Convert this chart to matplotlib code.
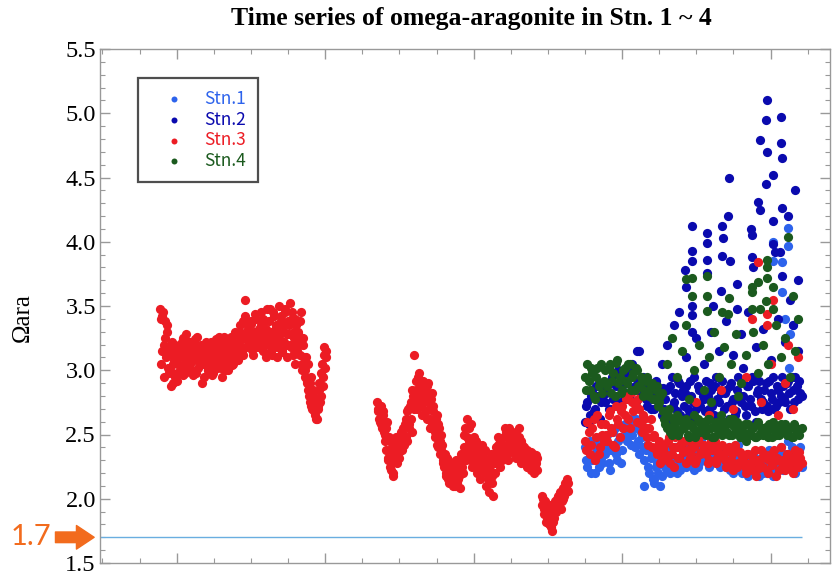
import numpy as np
import matplotlib.pyplot as plt
from matplotlib.ticker import MultipleLocator

# ---- data (x = day of record, y = omega-aragonite) ----
# two readings a day were logged; "_a"/"_a2" etc. hold the first / second reading

# Stn.3, first deployment
stn3_a_start = 23.2
stn3_a = [3.48, 3.05, 3.42, 3.20, 3.38, 3.10, 3.30, 2.98,
          3.15, 2.88, 3.22, 3.05, 2.95, 3.18, 2.92, 3.10,
          3.20, 3.02, 3.12, 3.25, 2.98, 3.15, 3.08, 3.22,
          3.05, 3.18, 3.12, 2.96, 3.20, 3.10, 3.26, 3.02,
          3.14, 3.08, 2.90, 3.18, 3.05, 3.22, 3.12, 3.00,
          3.15, 3.05, 3.20, 2.98, 3.10, 3.24, 3.02, 3.16,
          3.08, 3.18, 2.95, 3.12, 3.22, 3.05, 3.15, 3.00,
          3.18, 3.10, 3.25, 3.05, 3.20, 3.12, 3.28, 3.08,
          3.22, 3.30, 3.15, 3.38, 3.25, 3.55, 3.18, 3.32,
          3.28, 3.20, 3.36, 3.12, 3.30, 3.24, 3.40, 3.18,
          3.32, 3.22, 3.45, 3.15, 3.28, 3.38, 3.10, 3.25,
          3.20, 3.48, 3.30, 3.12, 3.42, 3.25, 3.35, 3.18,
          3.50, 3.22, 3.38, 3.15, 3.30, 3.45, 3.20, 3.10,
          3.28, 3.52, 3.18, 3.40, 3.25, 3.05, 3.35, 3.22,
          3.30, 3.12, 3.45, 3.00, 3.20, 2.95, 3.10, 2.90,
          2.85, 2.75, 2.95, 2.70, 2.82, 2.65, 2.78, 2.62,
          2.72, 2.90, 2.80, 3.05, 2.95, 3.18, 3.10]
stn3_a2 = [3.40, 3.15, 3.45, 2.95, 3.25, 3.35, 3.02, 3.18,
           3.00, 3.12, 2.90, 3.08, 3.20, 2.98, 3.14, 3.04,
           3.10, 3.22, 2.96, 3.18, 3.06, 3.28, 3.00, 3.14,
           3.22, 3.00, 3.15, 3.08, 3.24, 2.98, 3.12, 3.18,
           3.04, 3.20, 3.10, 2.95, 3.15, 3.06, 3.00, 3.20,
           3.08, 3.22, 2.96, 3.14, 3.04, 3.18, 3.10, 3.26,
           3.20, 3.02, 3.12, 3.26, 3.00, 3.16, 3.08, 3.22,
           3.12, 3.26, 3.04, 3.16, 3.30, 3.08, 3.20, 3.15,
           3.35, 3.18, 3.28, 3.12, 3.42, 3.24, 3.36, 3.20,
           3.22, 3.38, 3.16, 3.28, 3.44, 3.20, 3.30, 3.26,
           3.18, 3.35, 3.25, 3.40, 3.20, 3.32, 3.48, 3.22,
           3.38, 3.15, 3.26, 3.45, 3.20, 3.34, 3.10, 3.30,
           3.25, 3.42, 3.14, 3.35, 3.22, 3.48, 3.28, 3.38,
           3.35, 3.20, 3.45, 3.12, 3.30, 3.40, 3.15, 3.28,
           3.20, 3.38, 3.05, 3.25, 3.10, 3.00, 2.92, 3.05,
           2.80, 2.90, 2.72, 2.85, 2.68, 2.76, 2.62, 2.70,
           2.85, 2.75, 2.98, 2.88, 3.12, 3.02, 3.15]

# Stn.3, second deployment
stn3_b_start = 111.0
stn3_b = [2.75, 2.68, 2.60, 2.72, 2.55, 2.65,
          2.50, 2.38, 2.60, 2.30, 2.45, 2.22, 2.40, 2.18,
          2.35, 2.48, 2.28, 2.42, 2.32, 2.52, 2.38, 2.45,
          2.50, 2.62, 2.45, 2.70, 2.58, 2.75, 2.52, 2.80,
          3.12, 2.85, 2.70, 2.95, 2.78, 2.88, 2.65, 2.92,
          2.75, 2.85, 2.62, 2.90, 2.70, 2.55, 2.82, 2.68,
          2.60, 2.48, 2.65, 2.40, 2.55, 2.35, 2.50, 2.30,
          2.25, 2.35, 2.18, 2.30, 2.12, 2.28, 2.20, 2.15,
          2.22, 2.10, 2.30, 2.15, 2.25, 2.08, 2.35, 2.20,
          2.40, 2.55, 2.30, 2.62, 2.45, 2.35, 2.58, 2.25,
          2.48, 2.30, 2.40, 2.20, 2.35, 2.15, 2.28, 2.42,
          2.25, 2.38, 2.10, 2.30, 2.05, 2.22, 2.35, 2.18,
          2.02, 2.28, 2.40, 2.32, 2.48, 2.25, 2.38, 2.30,
          2.42, 2.55, 2.35, 2.50, 2.30, 2.45, 2.38, 2.52,
          2.40, 2.50, 2.32, 2.45, 2.38, 2.55, 2.28, 2.42,
          2.35, 2.40, 2.28, 2.38, 2.25, 2.32, 2.22, 2.30, 2.35, 2.20, 2.28, 2.32]
stn3_b2 = [2.70, 2.62, 2.72, 2.58, 2.68, 2.52,
           2.45, 2.55, 2.32, 2.48, 2.25, 2.38, 2.20, 2.30,
           2.42, 2.30, 2.45, 2.36, 2.48, 2.40, 2.55, 2.42,
           2.58, 2.48, 2.68, 2.55, 2.72, 2.62, 2.85, 2.70,
           2.80, 2.92, 2.75, 2.98, 2.82, 2.72, 2.90, 2.80,
           2.80, 2.68, 2.88, 2.75, 2.62, 2.78, 2.58, 2.72,
           2.52, 2.62, 2.42, 2.58, 2.45, 2.38, 2.42, 2.28,
           2.30, 2.20, 2.32, 2.15, 2.25, 2.18, 2.28, 2.10,
           2.18, 2.28, 2.12, 2.22, 2.18, 2.28, 2.25, 2.32,
           2.50, 2.35, 2.48, 2.40, 2.55, 2.30, 2.42, 2.35,
           2.35, 2.45, 2.25, 2.38, 2.28, 2.22, 2.35, 2.30,
           2.32, 2.20, 2.28, 2.15, 2.25, 2.30, 2.12, 2.28,
           2.35, 2.20, 2.30, 2.42, 2.35, 2.45, 2.32, 2.40,
           2.48, 2.38, 2.52, 2.42, 2.55, 2.36, 2.48, 2.44,
           2.46, 2.35, 2.52, 2.40, 2.48, 2.35, 2.45, 2.38,
           2.30, 2.38, 2.32, 2.25, 2.35, 2.28, 2.36, 2.24, 2.30, 2.26, 2.34, 2.22]

# Stn.3, third deployment
stn3_c_start = 177.5
stn3_c = [1.95, 2.00, 1.88, 1.98, 1.85, 1.92, 1.80, 1.95, 1.75, 1.90, 1.85,
          1.98, 1.92, 2.02, 1.95, 2.05, 1.98, 2.08, 2.02, 2.10, 2.05, 2.12]
stn3_c2 = [2.02, 1.92, 1.96, 1.82, 1.90, 1.86, 1.94, 1.78, 1.88, 1.82, 1.95,
           1.90, 2.00, 1.96, 2.04, 1.92, 2.06, 2.00, 2.12, 2.08, 2.15, 2.06]

# all four stations, last period
multi_start = 195
stn1_band = [2.40, 2.25, 2.45, 2.30, 2.20, 2.38, 2.48, 2.28,
             2.35, 2.50, 2.22, 2.42, 2.55, 2.30, 2.48, 2.38,
             2.58, 2.45, 2.62, 2.50, 2.40, 2.55, 2.35, 2.48,
             2.30, 2.42, 2.20, 2.35, 2.12, 2.28, 2.40, 2.18,
             2.30, 2.22, 2.38, 2.25, 2.32, 2.20, 2.40, 2.28,
             2.35, 2.25, 2.42, 2.30, 2.22, 2.38, 2.28, 2.45,
             2.32, 2.40, 2.25, 2.35, 2.45, 2.28, 2.38, 2.30,
             2.35, 2.25, 2.40, 2.30, 2.20, 2.32, 2.42, 2.26,
             2.22, 2.30, 2.18, 2.28, 2.35, 2.20, 2.25, 2.32,
             2.20, 2.28, 2.22, 2.35, 2.18, 2.30, 2.25, 2.40,
             2.22, 2.30, 2.45, 2.25, 2.35, 2.20, 2.28, 2.40]
stn1_band2 = [2.30, 2.42, 2.20, 2.35, 2.45, 2.25, 2.32, 2.40,
              2.45, 2.28, 2.38, 2.52, 2.35, 2.45, 2.28, 2.55,
              2.50, 2.60, 2.42, 2.55, 2.62, 2.45, 2.52, 2.40,
              2.38, 2.25, 2.32, 2.15, 2.25, 2.20, 2.10, 2.32,
              2.25, 2.35, 2.20, 2.30, 2.40, 2.28, 2.22, 2.35,
              2.30, 2.40, 2.28, 2.36, 2.45, 2.25, 2.40, 2.32,
              2.38, 2.28, 2.42, 2.30, 2.35, 2.40, 2.25, 2.36,
              2.28, 2.38, 2.22, 2.35, 2.30, 2.25, 2.35, 2.20,
              2.30, 2.20, 2.28, 2.35, 2.22, 2.30, 2.18, 2.26,
              2.30, 2.20, 2.38, 2.25, 2.32, 2.22, 2.36, 2.28,
              2.35, 2.25, 2.32, 2.40, 2.22, 2.30, 2.38, 2.25]
stn2_band = [2.60, 2.75, 2.65, 2.85, 2.70, 2.80, 2.62, 2.78,
             2.75, 2.88, 2.70, 2.95, 2.80, 2.72, 2.90, 2.85,
             2.82, 2.95, 2.78, 3.05, 2.88, 3.15, 2.92, 2.80,
             2.85, 2.72, 2.90, 2.78, 2.70, 2.88, 2.75, 2.65,
             2.70, 2.85, 2.62, 2.95, 2.75, 2.68, 2.90, 2.80,
             2.72, 2.88, 2.65, 2.80, 2.95, 2.70, 2.85, 2.60,
             2.78, 2.92, 2.70, 2.85, 2.65, 2.95, 2.75, 2.82,
             2.70, 2.85, 2.62, 2.90, 2.78, 2.68, 2.95, 2.75,
             2.80, 2.65, 2.88, 2.72, 2.92, 2.60, 2.85, 2.78,
             2.75, 2.90, 2.68, 2.82, 2.95, 2.72, 2.85, 2.80,
             2.88, 2.75, 2.92, 2.70, 2.85, 2.95, 2.78, 2.82]
stn2_band2 = [2.72, 2.58, 2.80, 2.68, 2.88, 2.62, 2.75, 2.85,
              2.82, 2.70, 2.92, 2.78, 2.88, 3.00, 2.75, 2.92,
              2.90, 2.78, 2.98, 2.85, 2.75, 2.92, 2.82, 2.95,
              2.78, 2.88, 2.70, 2.82, 2.92, 2.72, 2.80, 2.86,
              2.78, 2.62, 2.88, 2.72, 2.82, 2.92, 2.65, 2.85,
              2.82, 2.70, 2.92, 2.75, 2.62, 2.88, 2.72, 2.80,
              2.68, 2.80, 2.90, 2.72, 2.88, 2.78, 2.62, 2.92,
              2.82, 2.72, 2.88, 2.75, 2.65, 2.85, 2.80, 2.92,
              2.72, 2.88, 2.78, 2.95, 2.68, 2.82, 2.92, 2.70,
              2.85, 2.72, 2.92, 2.78, 2.70, 2.88, 2.75, 2.95,
              2.78, 2.90, 2.82, 2.95, 2.75, 2.88, 2.92, 2.80]
stn3_band = [2.45, 2.60, 2.35, 2.55, 2.30, 2.65, 2.40, 2.50,
             2.58, 2.45, 2.68, 2.52, 2.40, 2.62, 2.48, 2.72,
             2.65, 2.80, 2.55, 2.75, 2.85, 2.60, 2.70, 2.52,
             2.62, 2.48, 2.55, 2.40, 2.50, 2.35, 2.45, 2.30,
             2.42, 2.30, 2.48, 2.35, 2.25, 2.40, 2.32, 2.45,
             2.38, 2.28, 2.45, 2.35, 2.40, 2.30, 2.48, 2.36,
             2.42, 2.35, 2.30, 2.45, 2.38, 2.28, 2.40, 2.33,
             2.35, 2.25, 2.40, 2.30, 2.22, 2.38, 2.28, 2.35,
             2.30, 2.20, 2.35, 2.25, 2.32, 2.18, 2.28, 2.38,
             2.25, 2.32, 2.20, 2.35, 2.28, 2.18, 2.30, 2.40,
             2.30, 2.22, 2.35, 2.28, 2.20, 2.38, 2.25, 2.32]
stn3_band2 = [2.38, 2.52, 2.42, 2.62, 2.48, 2.35, 2.58, 2.45,
              2.50, 2.65, 2.55, 2.42, 2.72, 2.58, 2.68, 2.55,
              2.78, 2.62, 2.82, 2.68, 2.72, 2.78, 2.58, 2.65,
              2.55, 2.42, 2.62, 2.48, 2.38, 2.42, 2.28, 2.38,
              2.35, 2.45, 2.28, 2.40, 2.48, 2.32, 2.42, 2.36,
              2.45, 2.38, 2.32, 2.42, 2.28, 2.45, 2.35, 2.42,
              2.36, 2.28, 2.42, 2.38, 2.45, 2.32, 2.35, 2.42,
              2.30, 2.38, 2.28, 2.35, 2.42, 2.25, 2.36, 2.30,
              2.25, 2.35, 2.28, 2.22, 2.38, 2.30, 2.24, 2.32,
              2.35, 2.22, 2.30, 2.26, 2.38, 2.32, 2.22, 2.28,
              2.26, 2.35, 2.28, 2.22, 2.32, 2.26, 2.36, 2.28]
stn4_band = [2.95, 3.05, 2.85, 2.98, 2.78, 3.02, 2.90, 2.82,
             3.00, 2.88, 3.05, 2.92, 2.80, 3.08, 2.95, 2.85,
             3.02, 2.90, 3.05, 2.95, 2.85, 3.00, 2.88, 2.92,
             2.85, 2.95, 2.80, 2.90, 2.78, 2.88, 2.75, 2.82,
             2.62, 2.55, 2.70, 2.50, 2.58, 2.65, 2.52, 2.60,
             2.55, 2.62, 2.48, 2.58, 2.65, 2.52, 2.60, 2.55,
             2.58, 2.50, 2.62, 2.55, 2.48, 2.60, 2.52, 2.65,
             2.55, 2.60, 2.50, 2.58, 2.62, 2.52, 2.56, 2.48,
             2.52, 2.45, 2.58, 2.50, 2.55, 2.48, 2.60, 2.52,
             2.50, 2.56, 2.48, 2.55, 2.60, 2.50, 2.53, 2.58,
             2.52, 2.58, 2.50, 2.55, 2.48, 2.56, 2.52, 2.54]
stn4_band2 = [2.85, 2.92, 3.02, 2.80, 2.95, 2.88, 3.05, 2.92,
              2.90, 3.02, 2.82, 2.98, 3.06, 2.90, 2.82, 3.00,
              2.92, 3.05, 2.85, 2.98, 3.02, 2.88, 2.95, 2.80,
              2.92, 2.82, 2.88, 2.78, 2.85, 2.72, 2.80, 2.68,
              2.58, 2.65, 2.52, 2.62, 2.55, 2.50, 2.62, 2.56,
              2.60, 2.50, 2.58, 2.55, 2.48, 2.62, 2.52, 2.60,
              2.52, 2.62, 2.55, 2.48, 2.58, 2.54, 2.60, 2.50,
              2.58, 2.52, 2.62, 2.50, 2.55, 2.60, 2.48, 2.56,
              2.58, 2.50, 2.52, 2.56, 2.48, 2.58, 2.50, 2.55,
              2.55, 2.50, 2.58, 2.48, 2.54, 2.56, 2.50, 2.52,
              2.56, 2.50, 2.54, 2.48, 2.58, 2.52, 2.50, 2.55]

# scattered high readings in the last period
stn1_hi_day = [270.9, 277.0, 277.0, 274.6, 270.9, 274.6, 276.0, 278.0, 279.0, 277.5, 219.0, 223.0]
stn1_hi_val = [4.00, 4.11, 3.97, 3.84, 3.85, 3.61, 3.40, 3.28, 3.35, 3.02, 2.10, 2.15]
stn2_hi_day = [268.5, 268.1, 274.2, 265.7, 268.5, 274.2, 274.6, 253.1, 270.9, 268.1,
               264.9, 265.7, 274.6, 277.0, 252.7, 270.9, 238.2, 244.3, 250.3, 262.0,
               262.4, 244.3, 250.7, 270.9, 238.2, 238.2, 244.3, 250.3, 253.5, 262.4,
               271.7, 273.7, 235.4, 235.8, 244.3, 249.9, 256.4, 262.8, 274.6, 246.7,
               256.4, 238.2, 238.2, 238.2, 228.0, 231.0, 236.0, 240.0, 243.0, 246.0,
               249.0, 252.0, 255.0, 258.0, 261.0, 264.0, 267.0, 270.0, 273.0, 276.0,
               279.0, 281.0, 226.0, 233.0, 259.0, 278.0, 280.0, 281.0, 217.0]
stn2_hi_val = [5.10, 4.95, 4.97, 4.79, 4.70, 4.77, 4.65, 4.50, 4.52, 4.45,
               4.31, 4.25, 4.26, 4.20, 4.20, 4.16, 4.12, 4.07, 4.12, 4.10,
               4.05, 3.99, 4.03, 3.98, 3.93, 3.85, 3.86, 3.89, 3.85, 3.88,
               3.92, 3.92, 3.78, 3.65, 3.76, 3.62, 3.67, 3.80, 3.73, 3.50,
               3.48, 3.50, 3.43, 3.30, 3.20, 3.35, 3.10, 3.25, 3.05, 3.30,
               3.15, 3.38, 3.12, 3.28, 3.45, 3.18, 3.32, 3.08, 3.40, 3.22,
               3.35, 3.15, 3.05, 3.45, 3.02, 3.55, 4.40, 3.70, 3.15]
stn3_hi_day = [264.9, 262.4, 268.5, 268.5, 250.0, 255.0, 260.0, 266.0, 270.0, 273.0,
               276.0, 279.0, 281.0, 245.0, 240.0, 271.0, 277.0]
stn3_hi_val = [3.84, 3.40, 3.44, 3.35, 2.85, 2.70, 2.95, 2.75, 3.05, 2.65,
               2.90, 2.70, 3.10, 2.65, 2.75, 3.55, 3.20]
stn4_hi_day = [277.0, 268.5, 268.5, 268.5, 264.9, 262.4, 262.4, 235.8, 238.2, 244.3,
               238.2, 244.3, 253.1, 244.3, 250.3, 262.4, 265.7, 270.9, 270.9, 268.1,
               252.7, 228.0, 230.0, 232.0, 234.0, 236.0, 239.0, 241.0, 243.0, 245.0,
               247.0, 249.0, 251.0, 254.0, 256.0, 258.0, 260.0, 263.0, 265.0, 267.0,
               269.0, 272.0, 274.0, 276.0, 278.0, 280.0, 281.0, 279.0, 257.0, 246.0, 237.0]
stn4_hi_val = [4.04, 3.86, 3.80, 3.72, 3.69, 3.65, 3.61, 3.71, 3.72, 3.73,
               3.58, 3.58, 3.56, 3.46, 3.45, 3.48, 3.48, 3.65, 3.48, 3.54,
               3.44, 3.05, 3.25, 2.95, 3.15, 3.35, 3.00, 3.20, 2.85, 3.10,
               3.30, 2.95, 3.18, 3.05, 3.28, 2.90, 3.12, 3.30, 2.98, 3.20,
               3.05, 3.35, 3.10, 3.25, 2.95, 3.15, 3.40, 3.58, 2.80, 2.75, 2.78]

labels = ['Stn.1', 'Stn.2', 'Stn.3', 'Stn.4']
colors = ['#2d63ec', '#0a0aae', '#ec1c24', '#1b5a1e']
threshold = 1.7
orange = '#f26b1d'


def days(start, vals, step, offset=0.0):
    return start + offset + step * np.arange(len(vals))


fig = plt.figure(figsize=(8.35, 5.75), dpi=100)
ax = fig.add_axes([100 / 835, 12 / 575, 730 / 835, 514 / 575])

ms = 44
d1 = days(multi_start, stn1_band, 1.0)
d2 = days(multi_start, stn1_band2, 1.0, 0.5)
# Stn.1
ax.scatter(np.r_[d1, d2, stn1_hi_day], np.r_[stn1_band, stn1_band2, stn1_hi_val],
           s=ms, color=colors[0], lw=0, label=labels[0])
# Stn.2
ax.scatter(np.r_[d1, d2, stn2_hi_day], np.r_[stn2_band, stn2_band2, stn2_hi_val],
           s=ms, color=colors[1], lw=0, label=labels[1])
# Stn.3
x3 = np.r_[days(stn3_a_start, stn3_a, 0.5), days(stn3_a_start, stn3_a2, 0.5, 0.25),
           days(stn3_b_start, stn3_b, 0.5), days(stn3_b_start, stn3_b2, 0.5, 0.25),
           days(stn3_c_start, stn3_c, 0.5), days(stn3_c_start, stn3_c2, 0.5, 0.25),
           d1, d2, stn3_hi_day]
y3 = np.r_[stn3_a, stn3_a2, stn3_b, stn3_b2, stn3_c, stn3_c2,
           stn3_band, stn3_band2, stn3_hi_val]
ax.scatter(x3, y3, s=ms, color=colors[2], lw=0, label=labels[2])
# Stn.4
ax.scatter(np.r_[d1, d2, stn4_hi_day], np.r_[stn4_band, stn4_band2, stn4_hi_val],
           s=ms, color=colors[3], lw=0, label=labels[3])

ax.hlines(threshold, -1, 282.6, color='#6aaee0', lw=1)

ax.set_xlim(-1, 294)
ax.set_ylim(1.5, 5.5)
ax.xaxis.set_minor_locator(MultipleLocator(15))
ax.set_xticks(np.arange(30, 294, 60))
ax.yaxis.set_major_locator(MultipleLocator(0.5))
ax.yaxis.set_minor_locator(MultipleLocator(0.1))
ax.tick_params(which='both', direction='in', top=True, right=True, color='#999999')
ax.tick_params(which='major', length=7, width=1)
ax.tick_params(which='minor', length=3.5, width=0.8)
ax.tick_params(axis='x', labelbottom=False)
ax.tick_params(axis='y', labelsize=17.5, pad=3)
for lab in ax.get_yticklabels():
    lab.set_fontfamily('Liberation Serif')
ax.yaxis.set_major_formatter(plt.FormatStrFormatter('%.1f'))
for sp in ax.spines.values():
    sp.set_color('#999999')
    sp.set_linewidth(1)

fig.text(471 / 835, 1 - 18 / 575, 'Time series of omega-aragonite in Stn. 1 ~ 4',
         ha='center', va='center', fontsize=18.5, fontweight='bold', family='Liberation Serif')
fig.text(23 / 835, 1 - 318 / 575, 'Ωara', rotation=90, ha='center', va='center',
         fontsize=18, family='Liberation Serif')

leg = ax.legend(loc='upper left', bbox_to_anchor=(0.052, 0.944), borderaxespad=0,
                frameon=True, fancybox=False, markerscale=0.65, handletextpad=0.4,
                labelspacing=0.15, borderpad=0.7, handlelength=2.7,
                prop={'family': 'Noto Sans CJK JP', 'size': 12.5})
leg.get_frame().set_edgecolor('#222222')
leg.get_frame().set_linewidth(1.6)
for txt, c in zip(leg.get_texts(), colors):
    txt.set_color(c)

# 1.7 marker to the left of the axis
fig.text(11 / 835, 1 - 537 / 575, '1.7', color=orange, fontsize=21,
         family='Lato', ha='left', va='center')
ax.annotate('', xy=(-0.008, threshold), xycoords=ax.get_yaxis_transform(),
            xytext=(-0.061, threshold), textcoords=ax.get_yaxis_transform(),
            arrowprops=dict(arrowstyle='simple,head_length=0.75,head_width=1.0,tail_width=0.45',
                            color=orange, shrinkA=0, shrinkB=0, mutation_scale=17),
            annotation_clip=False)

fig.savefig('out.png', dpi=100)
